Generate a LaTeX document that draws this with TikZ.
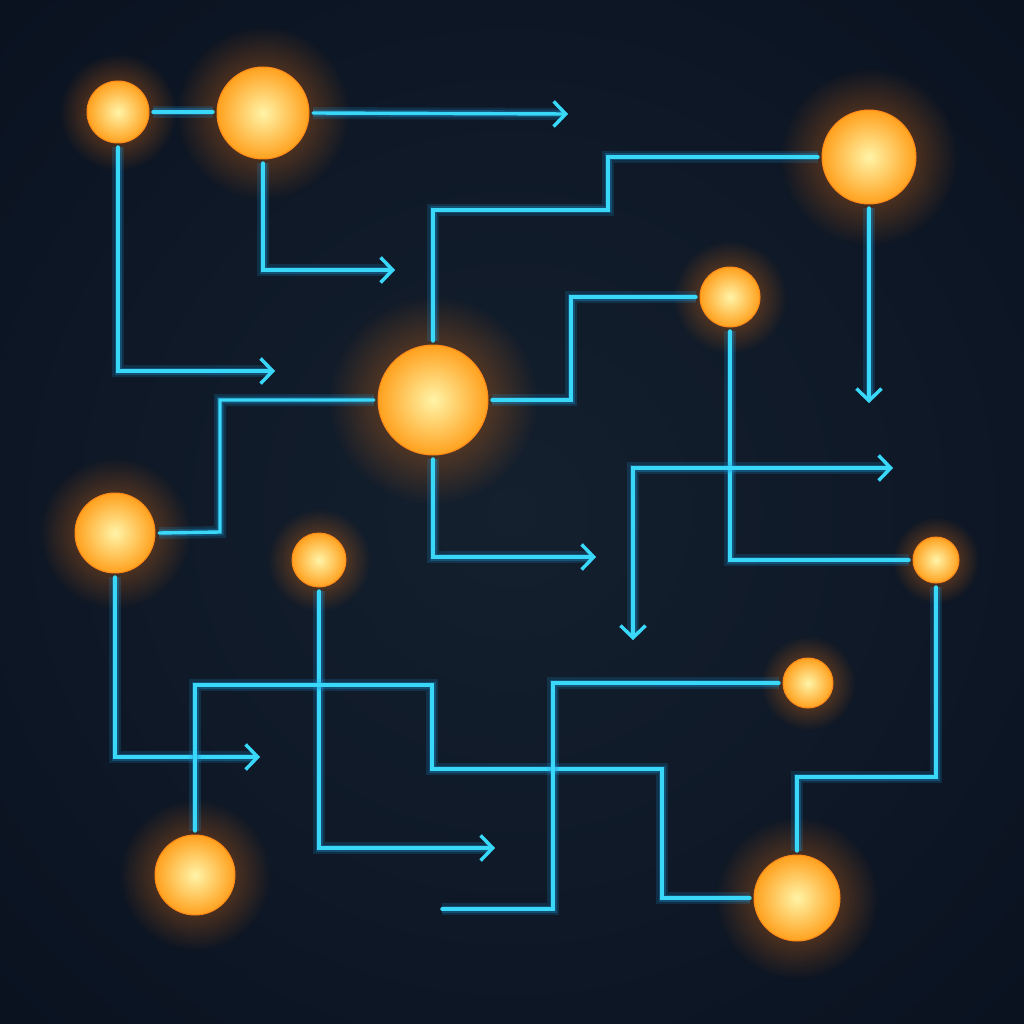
\documentclass[tikz,border=0pt]{standalone}
\usetikzlibrary{arrows.meta,fadings}
\definecolor{bgdark}{HTML}{0A1220}
\definecolor{bgmid}{HTML}{14202E}
\definecolor{wirecol}{HTML}{3AD8F8}
\definecolor{wireglow}{HTML}{1A9AE0}
\definecolor{sunin}{HTML}{FFF4A8}
\definecolor{sunout}{HTML}{FFA11E}
\definecolor{halo}{HTML}{FF7A10}
\tikzfading[name=glowfade, inner color=transparent!25, outer color=transparent!100]
\pgfdeclarelayer{bglayer}
\pgfdeclarelayer{halolayer}
\pgfsetlayers{bglayer,halolayer,main}
\tikzset{
  sun/.style={circle, inner sep=0pt, outer sep=4pt, minimum size=#1,
    shade, inner color=sunin, outer color=sunout, draw=sunout!85!red, line width=1pt},
  wire/.style={draw=wirecol, line width=3.4pt, line cap=round, line join=miter,
    preaction={draw=wireglow, line width=12pt, draw opacity=0.18},
    preaction={draw=wireglow, line width=7pt, draw opacity=0.3}},
  tip/.style={-{Straight Barb[length=12pt, width=25pt, line width=3.4pt]}},
  tips/.style={{Straight Barb[length=12pt, width=25pt, line width=3.4pt]}-{Straight Barb[length=12pt, width=25pt, line width=3.4pt]}},
}
\begin{document}
\begin{tikzpicture}[x=1pt,y=-1pt]
\useasboundingbox (0,0) rectangle (1024,1024);
\begin{pgfonlayer}{bglayer}
  \fill[bgdark] (0,0) rectangle (1024,1024);
  \shade[inner color=bgmid, outer color=bgdark] (-200,-200) rectangle (1224,1224);
\end{pgfonlayer}
% nodes
\node[sun=62pt] (n1) at (118,112) {};
\node[sun=92pt] (n2) at (263,113) {};
\node[sun=94pt] (n3) at (869,157) {};
\node[sun=60pt] (n4) at (730,297) {};
\node[sun=110pt] (n5) at (433,400) {};
\node[sun=80pt] (n6) at (115,533) {};
\node[sun=54pt] (n7) at (319,560) {};
\node[sun=46pt] (n8) at (936,560) {};
\node[sun=50pt] (n9) at (808,683) {};
\node[sun=80pt] (n10) at (195,875) {};
\node[sun=86pt] (n11) at (797,898) {};
\begin{pgfonlayer}{halolayer}
\foreach \n/\r in {n1/31,n2/46,n3/47,n4/30,n5/55,n6/40,n7/27,n8/23,n9/25,n10/40,n11/43}{
  \fill[halo, path fading=glowfade, fill opacity=0.7] (\n.center) circle ({\r*1.9});
}
\end{pgfonlayer}
% free ends
\coordinate (a1) at (568,114);
\coordinate (a2) at (275,371);
\coordinate (a3) at (395,270);
\coordinate (a4) at (869,403);
\coordinate (a5) at (596,557);
\coordinate (a6) at (633,640);
\coordinate (a7) at (893,468);
\coordinate (a8) at (260,757);
\coordinate (a9) at (495,848);
\coordinate (a10) at (442,909);
% connectors
\draw[wire] (n1.east) -- (n1.east -| n2.west);
\draw[wire,tip] (n2.east) -- (a1);
\draw[wire,tip] (n1.south) |- (a2);
\draw[wire,tip] (n2.south) |- (a3);
\draw[wire] (n3.west) -| (608,210) -| (n5.north);
\draw[wire,tip] (n3.south) -- (a4);
\draw[wire] (n4.west) -| (571,400) -- (n5.east);
\draw[wire] (n4.south) |- (n8.west);
\draw[wire] (n5.west) -| (220,532) -- (n6.east);
\draw[wire,tip] (n5.south) |- (a5);
\draw[wire,tips] (a6) |- (a7);
\draw[wire,tip] (n6.south) |- (a8);
\draw[wire,tip] (n7.south) |- (a9);
\draw[wire] (n10.north) |- (432,685) |- (662,769) |- (n11.west);
\draw[wire] (n9.west) -| (553,909) -- (a10);
\draw[wire] (n8.south) |- (797,777) -- (n11.north);
\end{tikzpicture}
\end{document}
